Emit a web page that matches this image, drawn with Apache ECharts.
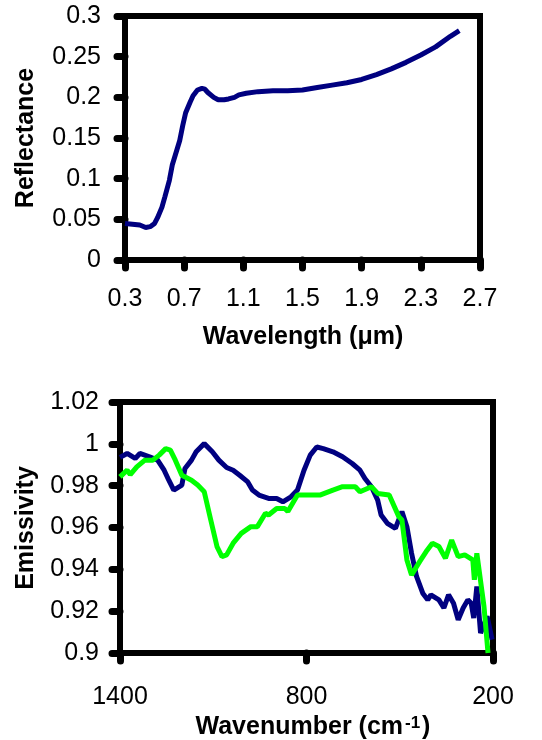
<!DOCTYPE html>
<html>
<head>
<meta charset="utf-8">
<script src="https://cdn.jsdelivr.net/npm/echarts@6/dist/echarts.min.js"></script>
<style>
html,body{margin:0;padding:0;background:#fff;}
#chart{width:542px;height:740px;}
</style>
</head>
<body>
<div id="chart"></div>
<script>
// ---- Top panel: reflectance spectrum ----
const wavelength = [0.30,0.35,0.40,0.44,0.47,0.50,0.52,0.55,0.57,0.60,0.62,0.65,0.67,0.69,0.71,0.74,0.76,0.79,0.82,0.84,0.86,0.90,0.93,0.97,1.00,1.04,1.07,1.12,1.20,1.30,1.40,1.50,1.60,1.70,1.80,1.90,2.00,2.10,2.20,2.30,2.40,2.50,2.56];
const reflectance = [0.045,0.044,0.043,0.040,0.041,0.045,0.052,0.065,0.078,0.098,0.117,0.135,0.147,0.165,0.181,0.194,0.202,0.209,0.211,0.210,0.206,0.200,0.197,0.197,0.198,0.200,0.203,0.205,0.207,0.208,0.208,0.209,0.212,0.215,0.218,0.222,0.228,0.235,0.243,0.252,0.262,0.275,0.282];
const wavelengthTicks = [0.3,0.7,1.1,1.5,1.9,2.3,2.7];
const reflectanceTicks = [0,0.05,0.1,0.15,0.2,0.25,0.3];

// ---- Bottom panel: emissivity spectra ----
const blueWavenumber = [1400,1377,1351,1336,1305,1279,1258,1243,1227,1201,1191,1170,1155,1129,1103,1082,1057,1036,1015,989,974,953,922,896,876,850,829,808,788,767,746,715,684,653,628,612,591,571,560,540,514,493,477,462,446,426,410,400,374,358,343,327,312,296,281,270,262,252,240,219,203];
const blueEmissivity = [0.9935,0.9954,0.993,0.9954,0.9938,0.9922,0.9874,0.9826,0.9779,0.9803,0.9882,0.9922,0.9962,1.0001,0.9962,0.9922,0.9887,0.9874,0.985,0.9818,0.9779,0.9755,0.9739,0.9739,0.9723,0.9747,0.9779,0.9874,0.9946,0.9985,0.9977,0.9962,0.9938,0.9906,0.9874,0.9834,0.9795,0.9731,0.966,0.962,0.9596,0.9676,0.9604,0.9477,0.9366,0.9286,0.9254,0.9278,0.9254,0.9215,0.9278,0.9238,0.9159,0.9215,0.9254,0.9238,0.9167,0.9318,0.9095,0.9175,0.9064];
const greenWavenumber = [1400,1377,1367,1346,1320,1295,1274,1253,1238,1222,1201,1170,1150,1129,1108,1088,1072,1057,1036,1010,979,958,932,922,896,870,860,829,788,757,715,684,643,628,591,571,534,503,493,477,462,436,415,395,374,353,333,312,291,265,260,252,229,216];
const greenEmissivity = [0.9842,0.9874,0.9853,0.989,0.9922,0.9922,0.9946,0.9977,0.997,0.9922,0.985,0.9826,0.9803,0.9771,0.9636,0.9509,0.9461,0.9469,0.9525,0.9572,0.9604,0.9604,0.9668,0.966,0.9691,0.9691,0.9676,0.9755,0.9755,0.9755,0.9779,0.9795,0.9795,0.9771,0.9795,0.9763,0.9755,0.9652,0.9636,0.9445,0.9373,0.9437,0.9485,0.9525,0.9509,0.9453,0.954,0.9461,0.9469,0.9445,0.935,0.9477,0.9223,0.900];
const wavenumberTicks = [1400,800,200];
const emissivityTicks = [0.9,0.92,0.94,0.96,0.98,1,1.02];

const zip = (a, b) => a.map((v, i) => [v, b[i]]);
const fmt = v => String(+(+v).toFixed(2));

const tickFont = {fontFamily: 'Liberation Sans', fontSize: 25, color: '#000'};
const titleFont = 'bold 25px "Liberation Sans"';
const tickStyle = {show: true, inside: false, length: 8, lineStyle: {color: '#000', width: 7, cap: 'round'}};

const chart = echarts.init(document.getElementById('chart'), null, {renderer: 'canvas'});
chart.setOption({
  backgroundColor: '#fff',
  animation: false,
  grid: [
    {left: 125, top: 16, width: 355, height: 244, show: true, borderColor: '#000', borderWidth: 6, backgroundColor: 'transparent'},
    {left: 120, top: 402, width: 373, height: 251, show: true, borderColor: '#000', borderWidth: 6, backgroundColor: 'transparent'}
  ],
  xAxis: [
    {gridIndex: 0, type: 'value', min: 0.3, max: 2.7,
     axisLine: {show: false}, splitLine: {show: false},
     axisTick: Object.assign({customValues: wavelengthTicks}, tickStyle),
     axisLabel: Object.assign({customValues: wavelengthTicks, margin: 27, formatter: fmt}, tickFont)},
    {gridIndex: 1, type: 'value', min: 200, max: 1400, inverse: true,
     axisLine: {show: false}, splitLine: {show: false},
     axisTick: Object.assign({customValues: wavenumberTicks}, tickStyle),
     axisLabel: Object.assign({customValues: wavenumberTicks, margin: 32, formatter: fmt}, tickFont)}
  ],
  yAxis: [
    {gridIndex: 0, type: 'value', min: 0, max: 0.3,
     axisLine: {show: false}, splitLine: {show: false},
     axisTick: Object.assign({customValues: reflectanceTicks}, tickStyle),
     axisLabel: Object.assign({customValues: reflectanceTicks, margin: 24, formatter: fmt}, tickFont)},
    {gridIndex: 1, type: 'value', min: 0.9, max: 1.02,
     axisLine: {show: false}, splitLine: {show: false},
     axisTick: Object.assign({customValues: emissivityTicks}, tickStyle),
     axisLabel: Object.assign({customValues: emissivityTicks, margin: 21, formatter: fmt}, tickFont)}
  ],
  series: [
    {type: 'line', xAxisIndex: 0, yAxisIndex: 0, data: zip(wavelength, reflectance),
     showSymbol: false, smooth: false, lineStyle: {color: '#000080', width: 5}, z: 1},
    {type: 'line', xAxisIndex: 1, yAxisIndex: 1, data: zip(blueWavenumber, blueEmissivity),
     showSymbol: false, lineStyle: {color: '#000080', width: 5}, z: 1},
    {type: 'line', xAxisIndex: 1, yAxisIndex: 1, data: zip(greenWavenumber, greenEmissivity),
     showSymbol: false, lineStyle: {color: '#00FF00', width: 5}, z: 1}
  ],
  graphic: [
    {type: 'text', x: 26, y: 138, rotation: Math.PI / 2,
     style: {text: 'Reflectance', font: titleFont, fill: '#000', align: 'center', verticalAlign: 'middle'}},
    {type: 'text', x: 303, y: 337,
     style: {text: 'Wavelength (μm)', font: titleFont, fill: '#000', align: 'center', verticalAlign: 'middle'}},
    {type: 'text', x: 26, y: 528, rotation: Math.PI / 2,
     style: {text: 'Emissivity', font: titleFont, fill: '#000', align: 'center', verticalAlign: 'middle'}},
    {type: 'text', x: 313, y: 727,
     style: {text: 'Wavenumber (cm{sup|-1})', font: titleFont, fill: '#000', align: 'center', verticalAlign: 'middle',
       rich: {sup: {fontSize: 17, fontWeight: 'bold', fontFamily: 'Liberation Sans', verticalAlign: 'top', padding: [0, 2, 0, 2], fill: '#000'}}}}
  ]
});
</script>
</body>
</html>
